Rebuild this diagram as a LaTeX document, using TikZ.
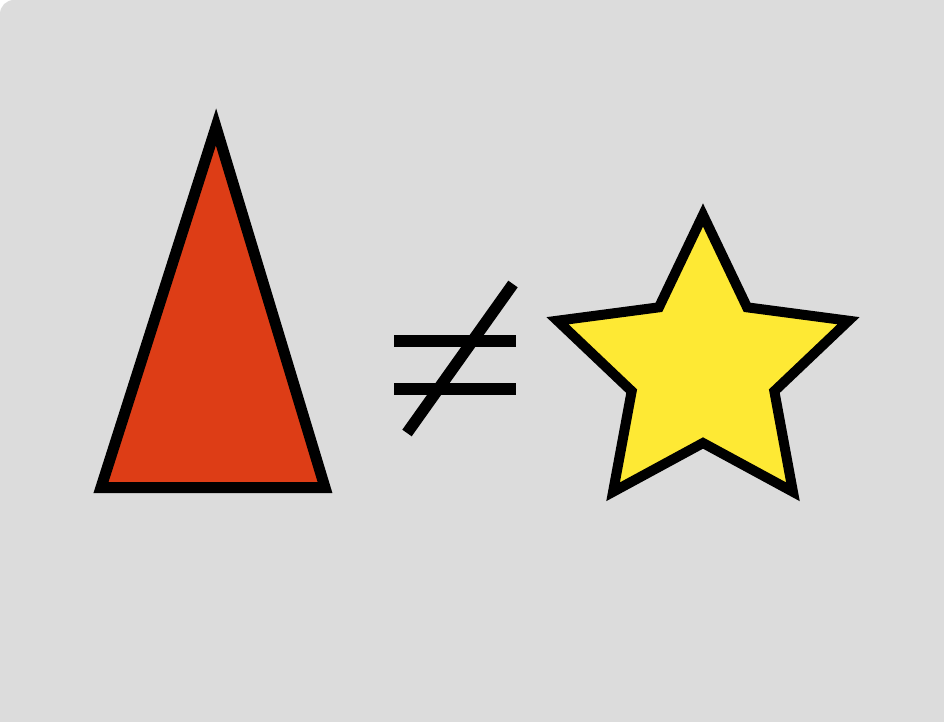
\documentclass[tikz,border=0pt]{standalone}
\definecolor{bg}{HTML}{DCDCDC}
\definecolor{tri}{HTML}{DD3D16}
\definecolor{sty}{HTML}{FEE934}
\tikzset{
  shapeline/.style={draw=black, line join=miter},
  barline/.style={draw=black, line width=11.5pt, line cap=butt}
}
\begin{document}
\begin{tikzpicture}[x=1pt,y=-1pt]
\useasboundingbox (0,0) rectangle (944,722);
\fill[white] (0,0) rectangle (944,722);
\fill[bg] (0,14) arc[start angle=180,end angle=270,radius=14] -- (944,0) -- (944,722) -- (0,722) -- cycle;
% triangle
\coordinate (ta) at (216,127);
\coordinate (tl) at (101,487.5);
\coordinate (tr) at (325,487.5);
\filldraw[shapeline, fill=tri, line width=11pt] (ta) -- (tl) -- (tr) -- cycle;
% not equal
\coordinate (e1a) at (394,341);
\coordinate (e1b) at (516,341);
\coordinate (e2a) at (394,389);
\coordinate (e2b) at (516,389);
\coordinate (sa) at (407,433);
\coordinate (sb) at (513,284);
\draw[barline] (e1a) -- (e1b);
\draw[barline] (e2a) -- (e2b);
\draw[barline] (sa) -- (sb);
% star
\coordinate (sc) at (703,368);
\filldraw[shapeline, fill=sty, line width=10pt]
  ([shift={(-90:153)}]sc)
  \foreach \k in {0,...,4} {
    -- ([shift={(-90+72*\k+36:75)}]sc) -- ([shift={(-90+72*\k+72:153)}]sc)
  } -- cycle;
\end{tikzpicture}
\end{document}
